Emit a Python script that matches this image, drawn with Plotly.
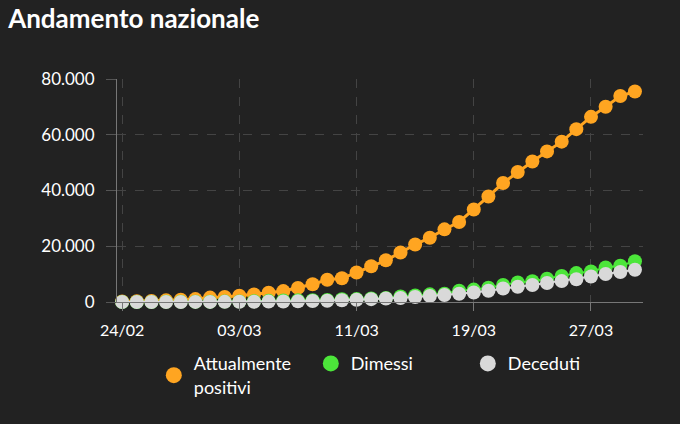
import plotly.graph_objects as go

dates = ["24/02","25/02","26/02","27/02","28/02","29/02","01/03","02/03","03/03","04/03",
         "05/03","06/03","07/03","08/03","09/03","10/03","11/03","12/03","13/03","14/03",
         "15/03","16/03","17/03","18/03","19/03","20/03","21/03","22/03","23/03","24/03",
         "25/03","26/03","27/03","28/03","29/03","30/03"]

attualmente_positivi = [221,311,385,588,821,1049,1577,1835,2263,2706,3296,3916,5061,6387,7985,8514,
                        10590,12839,14955,17750,20603,23073,26062,28710,33190,37860,42681,46638,
                        50418,54030,57521,62013,66414,70065,73880,75528]
dimessi = [1,1,3,45,46,50,83,149,160,276,414,523,589,622,724,1004,1045,1258,1439,1966,2335,2749,
           2941,4025,4440,5129,6072,7024,7432,8326,9362,10361,10950,12384,13030,14620]
deceduti = [7,10,12,17,21,29,34,52,79,107,148,197,233,366,463,631,827,1016,1266,1441,1809,2158,
            2503,2978,3405,4032,4825,5476,6077,6820,7503,8165,9134,10023,10779,11591]

tick_labels = ["24/02","03/03","11/03","19/03","27/03"]
y_ticks = [0, 20000, 40000, 60000, 80000]

series = [
    ("Attualmente<br>positivi", attualmente_positivi, "#ffa521", 3),
    ("Dimessi", dimessi, "#4ce63a", 2),
    ("Deceduti", deceduti, "#d9d9d9", 2),
]

fig = go.Figure()
for name, vals, color, lw in series:
    fig.add_trace(go.Scatter(
        x=dates, y=vals, name=name, mode="lines+markers",
        line=dict(color=color, width=lw),
        marker=dict(color=color, size=14, line=dict(width=0)),
        cliponaxis=False, showlegend=False,
    ))
# legend-only entries (circle symbols)
for name, vals, color, lw in series:
    fig.add_trace(go.Scatter(
        x=[None], y=[None], name=name, mode="markers",
        marker=dict(color=color, size=26, line=dict(width=0)),
        showlegend=True,
    ))

fig.update_layout(
    width=680, height=424,
    paper_bgcolor="#222222", plot_bgcolor="#222222",
    margin=dict(l=117, r=37, t=79, b=122),
    separators=",.",
    font=dict(family="Lato, sans-serif", color="#ffffff", size=15),
    title=dict(text="<b>Andamento nazionale</b>", x=0.012, xanchor="left",
               y=0.955, yanchor="middle", font=dict(size=26, color="#ffffff")),
    showlegend=True,
    legend=dict(orientation="h", x=0.07, xanchor="left", y=-0.194, yanchor="top",
                entrywidth=112, entrywidthmode="pixels", itemsizing="trace",
                font=dict(size=18, color="#ffffff"), bgcolor="rgba(0,0,0,0)"),
    xaxis=dict(type="category", range=[-0.35, 35.55], tickmode="array",
               tickvals=tick_labels, ticktext=tick_labels,
               showline=True, linecolor="#777777", linewidth=1,
               ticks="outside", ticklen=8, tickcolor="#777777",
               showgrid=True, gridcolor="#444444", griddash="dash", gridwidth=1,
               zeroline=False, ticklabelstandoff=6, tickfont=dict(size=16, color="#ffffff")),
    yaxis=dict(range=[0, 80000], tickvals=y_ticks, tickformat=",.0f",
               showline=True, linecolor="#777777", linewidth=1,
               ticks="outside", ticklen=10, tickcolor="#555555",
               showgrid=True, gridcolor="#444444", griddash="dash", gridwidth=1,
               zeroline=False, ticklabelstandoff=8, tickfont=dict(size=17, color="#ffffff")),
)

fig.write_html("out.html", config={"displayModeBar": False},
               post_script="document.body.style.margin='0';document.body.style.background='#222222';")
